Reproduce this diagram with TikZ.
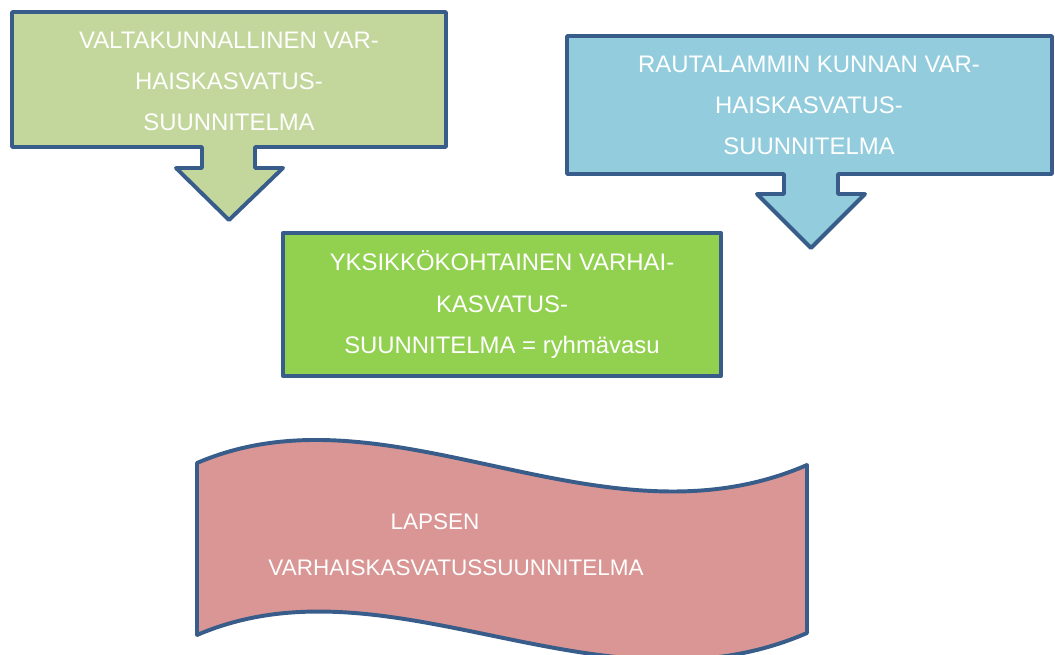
\documentclass[tikz,border=0pt]{standalone}
\usepackage{fontspec}
\setmainfont{Liberation Sans}
\definecolor{kehys}{HTML}{385D8A}
\definecolor{oliivi}{HTML}{C3D69B}
\definecolor{sininen}{HTML}{93CDDD}
\definecolor{vihrea}{HTML}{92D050}
\definecolor{roosa}{HTML}{D99694}
\tikzset{
	kuvio/.style={draw=kehys, line width=2.8pt, line join=round},
	teksti/.style={text=white, align=center, font=\fontsize{17}{29.2}\selectfont},
}
\begin{document}
\begin{tikzpicture}[x=0.025cm, y=-0.025cm]
	\useasboundingbox (0,0) rectangle (1055,655);
	% Valtakunnallinen vasu
	\filldraw[kuvio, fill=oliivi] (12,12) -- (446,12) -- (446,147) -- (255,147) -- (255,168) -- (283,168) -- (229,220) -- (176,168) -- (202,168) -- (202,147) -- (12,147) -- cycle;
	\node[teksti] (valtak) at (229,81) {VALTAKUNNALLINEN VAR-\\HAISKASVATUS-\\SUUNNITELMA};
	% Kunnan vasu
	\filldraw[kuvio, fill=sininen] (567,36) -- (1052,36) -- (1052,174) -- (838,174) -- (838,194) -- (865,194) -- (811,248) -- (757,194) -- (784,194) -- (784,174) -- (567,174) -- cycle;
	\node[teksti] (kunta) at (809,105) {RAUTALAMMIN KUNNAN VAR-\\HAISKASVATUS-\\SUUNNITELMA};
	% Ryhmävasu
	\node[kuvio, teksti, fill=vihrea, minimum width=10.95cm, minimum height=3.575cm] (yksikko) at (502,304.5) {YKSIKKÖKOHTAINEN VARHAI-\\KASVATUS-\\SUUNNITELMA = ryhmävasu};
	% Lapsen vasu (lippu)
	\filldraw[kuvio, fill=roosa] (197,463) .. controls (390,380) and (600,555) .. (807,465) -- (807,633) .. controls (600,723) and (390,552) .. (197,635) -- cycle;
	\node[teksti, font=\fontsize{16}{32.6}\selectfont] (lapsen) at (456,545) {LAPSEN\hspace*{1.05cm}\\VARHAISKASVATUSSUUNNITELMA};
\end{tikzpicture}
\end{document}
